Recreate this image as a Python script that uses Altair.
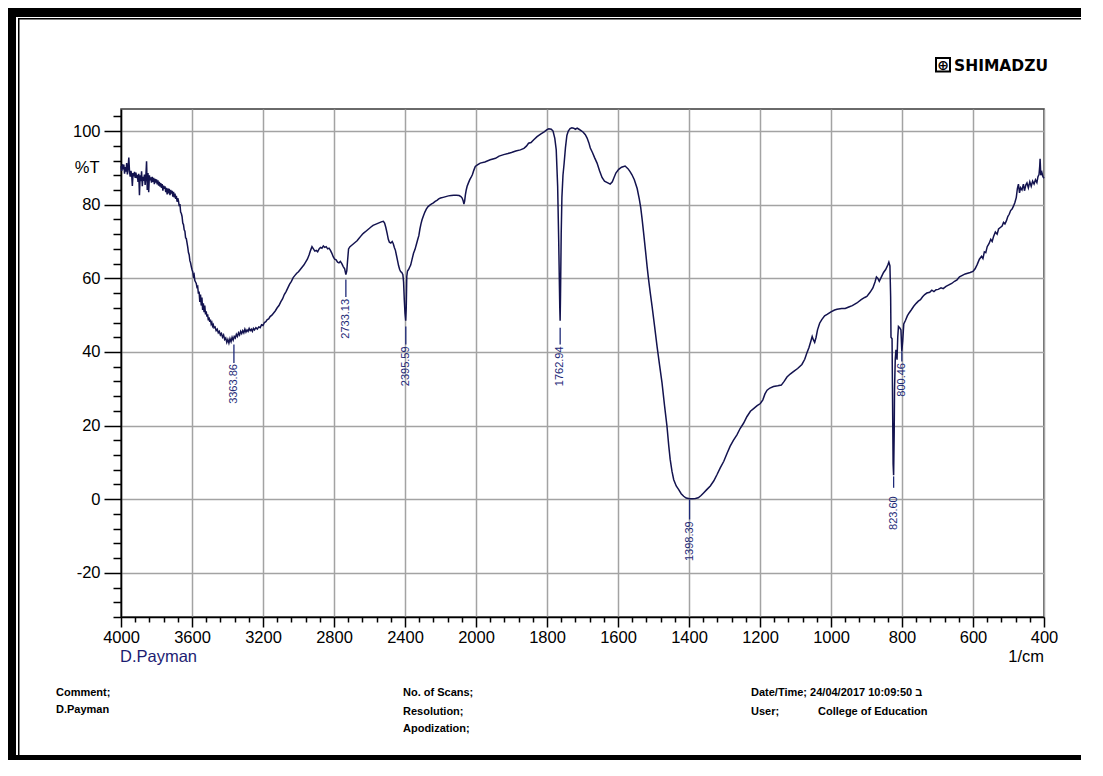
import altair as alt
import pandas as pd

# ---------------- spectrum ----------------
wavenumber = [
    4000, 3996, 3992, 3988, 3984, 3980, 3976, 3972, 3968, 3964, 3960, 3956, 3952, 3948, 3944, 3940,
    3936, 3932, 3928, 3924, 3920, 3916, 3912, 3908, 3904, 3900, 3896, 3892, 3888, 3884, 3880, 3876,
    3872, 3868, 3864, 3860, 3856, 3852, 3848, 3844, 3840, 3836, 3832, 3828, 3824, 3820, 3816, 3812,
    3808, 3804, 3800, 3796, 3792, 3788, 3784, 3780, 3776, 3772, 3768, 3764, 3760, 3756, 3752, 3748,
    3744, 3740, 3736, 3732, 3728, 3724, 3720, 3716, 3712, 3708, 3704, 3700, 3696, 3692, 3688, 3684,
    3680, 3676, 3672, 3668, 3664, 3660, 3656, 3652, 3648, 3644, 3640, 3636, 3632, 3628, 3624, 3620,
    3616, 3612, 3608, 3604, 3600, 3596, 3592, 3588, 3584, 3580, 3576, 3572, 3568, 3564, 3560, 3556,
    3552, 3548, 3544, 3540, 3536, 3532, 3528, 3524, 3520, 3516, 3512, 3508, 3504, 3500, 3496, 3492,
    3488, 3484, 3480, 3476, 3470, 3464, 3458, 3452, 3446, 3440, 3434, 3428, 3422, 3416, 3410, 3404,
    3398, 3392, 3386, 3380, 3374, 3368, 3362, 3356, 3350, 3344, 3338, 3332, 3326, 3320, 3314, 3308,
    3302, 3296, 3290, 3284, 3278, 3272, 3266, 3260, 3254, 3248, 3240, 3232, 3224, 3216, 3208, 3200,
    3192, 3184, 3176, 3168, 3160, 3150, 3140, 3130, 3120, 3110, 3100, 3090, 3080, 3070, 3060, 3050,
    3040, 3030, 3020, 3010, 3000, 2990, 2980, 2970, 2960, 2950, 2940, 2932, 2924, 2916, 2908, 2900,
    2892, 2884, 2876, 2868, 2860, 2852, 2844, 2836, 2828, 2820, 2812, 2804, 2796, 2788, 2780, 2772,
    2764, 2756, 2748, 2740, 2733, 2728, 2724, 2718, 2710, 2700, 2690, 2680, 2670, 2660, 2650, 2640,
    2630, 2620, 2610, 2600, 2590, 2580, 2570, 2560, 2550, 2540, 2530, 2522, 2515, 2508, 2501, 2494,
    2488, 2480, 2472, 2466, 2460, 2454, 2448, 2442, 2436, 2430, 2424, 2418, 2412, 2408, 2404, 2400,
    2396, 2393, 2390, 2386, 2380, 2374, 2368, 2360, 2352, 2344, 2336, 2328, 2322, 2316, 2310, 2304,
    2296, 2288, 2280, 2270, 2260, 2250, 2240, 2230, 2220, 2210, 2200, 2185, 2170, 2155, 2140, 2125,
    2110, 2095, 2085, 2078, 2072, 2068, 2064, 2060, 2055, 2050, 2042, 2035, 2028, 2020, 2012, 2004,
    1996, 1988, 1975, 1960, 1945, 1935, 1922, 1910, 1900, 1888, 1875, 1865, 1858, 1852, 1845, 1838,
    1828, 1818, 1808, 1800, 1795, 1788, 1783, 1778, 1774, 1770, 1767, 1764, 1763, 1762, 1760, 1758,
    1755, 1752, 1748, 1744, 1740, 1735, 1730, 1725, 1720, 1715, 1710, 1705, 1698, 1692, 1687, 1682,
    1678, 1672, 1666, 1659, 1652, 1645, 1638, 1630, 1622, 1616, 1612, 1606, 1598, 1590, 1580, 1572,
    1566, 1561, 1554, 1546, 1540, 1536, 1532, 1528, 1522, 1518, 1514, 1509, 1504, 1497, 1490, 1483,
    1476, 1469, 1462, 1457, 1453, 1448, 1443, 1436, 1429, 1422, 1415, 1408, 1398, 1390, 1382, 1374,
    1366, 1359, 1350, 1340, 1330, 1321, 1312, 1302, 1293, 1284, 1275, 1265, 1256, 1246, 1237, 1227,
    1218, 1208, 1199, 1192, 1186, 1180, 1172, 1162, 1150, 1140, 1132, 1124, 1115, 1105, 1094, 1082,
    1074, 1068, 1062, 1056, 1053, 1050, 1046, 1042, 1038, 1032, 1026, 1018, 1011, 1000, 990, 983,
    970, 960, 950, 940, 927, 915, 905, 899, 890, 882, 876, 872, 868, 864, 858, 852,
    846, 840, 837, 834, 832, 831, 828, 826, 825, 823.6, 822, 821, 819, 817, 814, 812,
    810, 806, 803, 800.5, 798, 795, 790, 785, 780, 774, 767, 760, 754, 748, 742, 736,
    730, 722, 716, 710, 704, 698, 690, 684, 676, 668, 660, 652, 645, 638, 630, 622,
    615, 608, 600, 594, 588, 582, 576, 572, 568, 564, 560, 555, 550, 546, 542, 537,
    532, 528, 523, 518, 514, 510, 506, 502, 498, 494, 490, 486, 482, 478, 475, 472,
    469, 466, 462, 458, 455, 451, 448, 444, 440, 436, 432, 428, 424, 420, 417, 414,
    412, 411, 409, 406, 403, 400,
]
transmittance = [
    90.5, 89.2, 91.0, 89.6, 90.9, 88.4, 90.2, 89.0, 91.3, 88.2, 90.0, 92.8, 89.0, 87.6, 89.2, 88.3,
    85.1, 88.6, 87.7, 88.9, 87.3, 88.7, 87.2, 88.1, 86.2, 88.4, 82.6, 88.0, 86.4, 89.1, 85.0, 87.6,
    86.5, 88.2, 85.4, 87.6, 91.8, 84.0, 88.6, 83.4, 88.0, 86.6, 87.4, 86.0, 87.6, 86.2, 87.3, 85.6,
    87.0, 86.0, 86.9, 85.5, 86.6, 85.2, 86.2, 84.9, 85.9, 84.6, 85.6, 83.8, 85.2, 84.3, 85.0, 83.4,
    84.6, 82.8, 84.4, 83.6, 84.3, 82.6, 84.0, 83.0, 83.8, 82.2, 83.5, 82.0, 83.0, 81.6, 82.4, 80.8,
    81.8, 81.0, 79.6, 80.2, 78.0, 77.6, 76.8, 75.0, 74.6, 73.2, 72.8, 71.0, 70.8, 69.6, 68.5, 67.0,
    66.4, 64.8, 64.2, 63.2, 62.4, 61.8, 60.6, 61.0, 59.4, 59.0, 58.6, 57.6, 57.8, 55.8, 56.4, 53.6,
    55.6, 52.6, 54.8, 51.4, 53.2, 50.8, 52.6, 50.2, 51.0, 49.6, 50.2, 48.6, 49.4, 48.2, 48.8, 47.6,
    48.0, 47.0, 47.4, 46.6, 46.8, 45.8, 46.2, 45.2, 45.6, 44.6, 45.0, 44.0, 44.6, 43.4, 43.8, 42.6,
    43.4, 42.4, 43.6, 42.8, 44.0, 43.2, 44.2, 43.8, 44.8, 44.2, 45.2, 44.6, 45.6, 45.0, 45.8, 45.2,
    46.2, 45.4, 46.0, 45.6, 46.4, 45.8, 46.2, 45.6, 46.4, 46.0, 46.6, 46.2, 46.8, 46.6, 47.4, 47.2,
    48.0, 48.2, 48.8, 49.0, 49.6, 50.0, 50.6, 51.2, 52.0, 52.6, 53.6, 54.4, 55.6, 56.4, 57.4, 58.4,
    59.2, 60.2, 60.8, 61.4, 61.8, 62.4, 63.0, 63.6, 64.4, 65.2, 66.4, 67.6, 68.6, 68.0, 67.4, 67.6,
    67.2, 68.0, 68.4, 68.2, 68.8, 68.4, 68.6, 68.0, 68.2, 67.6, 66.8, 65.8, 65.2, 65.0, 64.4, 64.2,
    64.6, 64.0, 63.2, 62.6, 61.0, 62.0, 64.5, 68.0, 68.6, 69.0, 69.4, 69.8, 70.2, 70.8, 71.4, 72.0,
    72.4, 72.8, 73.2, 73.6, 74.0, 74.4, 74.6, 74.8, 75.0, 75.2, 75.4, 75.5, 75.0, 73.8, 72.3, 70.6,
    69.8, 69.6, 70.0, 69.4, 68.4, 67.6, 66.2, 64.8, 63.4, 62.4, 61.8, 61.6, 61.0, 59.0, 54.2, 50.5,
    48.5, 52.0, 60.5, 62.0, 62.4, 63.0, 63.6, 65.2, 66.8, 67.8, 69.2, 70.6, 71.6, 73.4, 74.8, 75.9,
    77.0, 78.0, 78.8, 79.5, 79.9, 80.2, 80.5, 80.9, 81.2, 81.6, 81.8, 82.0, 82.2, 82.4, 82.5, 82.6,
    82.6, 82.5, 82.2, 81.8, 81.0, 80.2, 81.0, 82.6, 84.0, 85.0, 86.0, 86.8, 87.4, 88.2, 89.4, 90.4,
    90.8, 91.3, 91.6, 92.2, 92.6, 93.2, 93.6, 93.9, 94.2, 94.6, 94.9, 95.3, 95.9, 96.7, 96.9, 97.6,
    98.5, 99.2, 99.8, 100.4, 100.6, 100.5, 100.0, 98.0, 94.9, 85.0, 70.0, 52.0, 48.5, 55.0, 72.0, 82.0,
    88.0, 91.0, 95.5, 98.8, 100.0, 100.7, 100.9, 100.8, 100.5, 100.8, 100.5, 100.2, 99.7, 99.0, 98.1, 96.8,
    95.4, 94.2, 92.8, 91.3, 89.2, 87.4, 86.4, 86.0, 85.6, 86.2, 87.2, 88.6, 89.6, 90.2, 90.5, 89.8,
    89.0, 88.2, 86.8, 84.4, 81.5, 79.2, 76.0, 72.5, 67.0, 63.2, 59.8, 56.0, 52.4, 47.0, 41.5, 36.5,
    31.6, 25.5, 19.8, 14.5, 10.8, 7.6, 5.3, 3.6, 2.6, 1.5, 0.8, 0.3, 0.1, 0.1, 0.2, 0.4,
    1.0, 1.7, 2.6, 3.6, 5.0, 6.7, 8.5, 10.3, 12.4, 14.4, 16.0, 17.5, 19.2, 20.7, 22.4, 23.9,
    24.6, 25.4, 26.0, 27.0, 28.6, 29.6, 30.2, 30.6, 30.8, 31.0, 32.0, 33.2, 34.0, 34.7, 35.5, 36.6,
    38.0, 39.7, 41.2, 43.2, 44.2, 43.4, 42.6, 44.0, 46.0, 47.8, 48.8, 49.8, 50.2, 50.9, 51.4, 51.6,
    51.8, 51.8, 52.2, 52.6, 53.3, 54.2, 54.8, 55.1, 56.2, 57.4, 59.0, 60.4, 60.0, 59.2, 60.4, 61.6,
    62.4, 63.6, 64.4, 63.4, 55.0, 44.0, 43.6, 20.0, 9.5, 6.5, 18.0, 30.0, 38.0, 40.6, 37.9, 44.0,
    46.9, 46.5, 46.0, 40.2, 43.0, 47.6, 48.6, 49.8, 50.6, 51.4, 52.4, 53.2, 53.8, 54.2, 55.0, 55.6,
    56.0, 56.2, 56.8, 56.4, 56.9, 57.0, 57.4, 57.2, 57.8, 58.2, 58.6, 59.2, 59.6, 60.4, 60.8, 61.2,
    61.4, 61.6, 61.9, 62.6, 63.8, 65.2, 66.0, 65.4, 67.2, 67.0, 68.6, 69.4, 70.6, 70.0, 71.4, 72.6,
    72.0, 73.4, 73.8, 74.2, 75.2, 74.8, 75.6, 76.8, 77.4, 78.4, 78.8, 79.6, 80.6, 82.0, 84.4, 85.6,
    83.2, 84.6, 84.0, 85.6, 83.8, 85.4, 85.9, 84.6, 86.2, 85.0, 86.4, 85.6, 86.8, 86.0, 87.6, 88.2,
    90.5, 92.5, 88.0, 88.8, 87.6, 87.2,
]

# ---------------- peak annotations ----------------
peak_wn = [3363.86, 2733.13, 2395.59, 1762.94, 1398.39, 823.60, 800.46]
peak_text = ["3363.86", "2733.13", "2395.59", "1762.94", "1398.39", "823.60", "800.46"]
peak_line_top = [42.0, 59.7, 46.9, 46.6, -0.1, 6.2, 40.2]
peak_line_bottom = [37.0, 54.9, 42.0, 42.0, -5.5, 3.1, 37.4]
peak_text_top = [36.7, 54.4, 41.5, 41.5, -6.0, 0.8, 37.0]

# ---------------- axis ticks ----------------
x_major = [4000, 3600, 3200, 2800, 2400, 2000, 1800, 1600, 1400, 1200, 1000, 800, 600, 400]
x_minor = [v for v in range(4000, 2000, -80) if v not in x_major] + \
          [v for v in range(2000, 399, -40) if v not in x_major]
y_major = [-20, 0, 20, 40, 60, 80, 100]
y_minor = [v for v in range(-32, 105, 4) if v not in y_major]

FONT = "Liberation Sans"
INK = "#000000"
CURVE = "#13134f"
PEAK = "#1e2a78"

W, H = 923, 508
xscale = alt.Scale(domain=[4000, 2000, 400], range=[0, 355, 923], zero=False, nice=False)
yscale = alt.Scale(domain=[-32, 106], zero=False, nice=False)

spec_df = pd.DataFrame({"wn": wavenumber, "T": transmittance})
peak_df = pd.DataFrame({"wn": peak_wn, "label": peak_text, "top": peak_line_top,
                        "bottom": peak_line_bottom, "ty": peak_text_top})

x_main_axis = alt.Axis(values=x_major, orient="bottom", grid=True, gridColor="#a3a3a3", gridWidth=1.5,
                       tickSize=10, tickWidth=1.5, tickColor=INK, domainColor=INK, domainWidth=1.5,
                       labelFont=FONT, labelFontSize=16.5, labelColor=INK, labelPadding=2,
                       labelFlush=False, labelOverlap=False, format="d", title=None)
y_main_axis = alt.Axis(values=y_major, orient="left", grid=True, gridColor="#a3a3a3", gridWidth=1.5,
                       tickSize=17, tickWidth=1.5, tickColor=INK, domainColor=INK, domainWidth=1.5,
                       labelFont=FONT, labelFontSize=16.5, labelColor=INK, labelPadding=4,
                       labelFlush=False, labelOverlap=False,
                       labelExpr="datum.value < 0 ? '-' + abs(datum.value) : '' + datum.value",
                       title="%T", titleAngle=0, titleX=-22, titleY=58.9, titleAlign="right",
                       titleBaseline="middle", titleFont=FONT, titleFontSize=16.5,
                       titleFontWeight="normal", titleColor=INK)
x_minor_axis = alt.Axis(values=x_minor, orient="bottom", grid=False, domain=False, labels=False,
                        tickSize=5, tickWidth=1.5, tickColor=INK, title=None)
y_minor_axis = alt.Axis(values=y_minor, orient="left", grid=False, domain=False, labels=False,
                        tickSize=8, tickWidth=1.5, tickColor=INK, title=None)

curve = alt.Chart(spec_df).mark_line(color=CURVE, strokeWidth=1.5).encode(
    x=alt.X("wn:Q", scale=xscale, axis=x_main_axis),
    y=alt.Y("T:Q", scale=yscale, axis=y_main_axis),
)

peak_rules = alt.Chart(peak_df).mark_rule(color=PEAK, strokeWidth=1.3).encode(
    x=alt.X("wn:Q", scale=xscale, axis=x_minor_axis),
    y=alt.Y("top:Q", scale=yscale, axis=y_minor_axis),
    y2="bottom:Q",
)

peak_labels = alt.Chart(peak_df).mark_text(angle=270, align="right", baseline="middle",
                                           font=FONT, fontSize=11, color=PEAK).encode(
    x=alt.X("wn:Q", scale=xscale, axis=None),
    y=alt.Y("ty:Q", scale=yscale, axis=None),
    text="label:N",
)


def note(txt, x, y, size=11, color=INK, align="left", weight="bold", font=FONT):
    return alt.Chart(pd.DataFrame({"t": [txt]})).mark_text(
        align=align, baseline="alphabetic", font=font, fontSize=size,
        fontWeight=weight, color=color).encode(
        x=alt.value(x), y=alt.value(y), text="t:N")


def block(x, x2, y, y2, color="black"):
    return alt.Chart(pd.DataFrame({"k": [0]})).mark_rect(color=color).encode(
        x=alt.value(x), x2=alt.value(x2), y=alt.value(y), y2=alt.value(y2))


RIGHT = 960
BOTTOM = 651
frame = [
    block(-113, RIGHT, -101, -92),         # top thick bar
    block(-113, -105, -101, BOTTOM),       # left thick bar
    block(-113, RIGHT, BOTTOM - 5, BOTTOM),  # bottom thick bar
    block(-103, RIGHT, -91, -89.5),        # inner thin top line
    block(-103, -101.5, -91, BOTTOM - 5),  # inner thin left line
]

logo_box = alt.Chart(pd.DataFrame({"k": [0]})).mark_rect(
    fill="white", stroke="black", strokeWidth=2).encode(
    x=alt.value(815), x2=alt.value(829), y=alt.value(-51), y2=alt.value(-37.5))

texts = [
    note("\u2295", 822, -39.5, size=14, align="center", weight="bold", font="DejaVu Sans"),
    note("SHIMADZU", 833, -38.3, size=15.5, weight="bold", font="DejaVu Sans"),
    note("D.Payman", -1, 552.7, size=16.5, color="#1c1c72", weight="normal"),
    note("1/cm", 923, 552.7, size=16.5, align="right", weight="normal"),
    note("Comment;", -65, 586.7),
    note("D.Payman", -65, 604),
    note("No. of Scans;", 282, 586.7),
    note("Resolution;", 282, 606),
    note("Apodization;", 282, 623.3),
    note("Date/Time; 24/04/2017 10:09:50 \u05d1", 630, 586.7),
    note("User;", 630, 606),
    note("College of Education", 697, 606),
]

chart = alt.layer(*frame, logo_box, curve, peak_rules, peak_labels, *texts).resolve_axis(
    x="independent", y="independent"
).properties(
    width=W, height=H,
    autosize=alt.AutoSizeParams(type="none"),
    padding={"left": 113, "top": 101, "right": 51, "bottom": 143},
    background="white",
).configure_view(stroke="#3a3a3a", strokeWidth=1.5)

chart.save("out.html", embed_options={"renderer": "svg", "actions": False})
